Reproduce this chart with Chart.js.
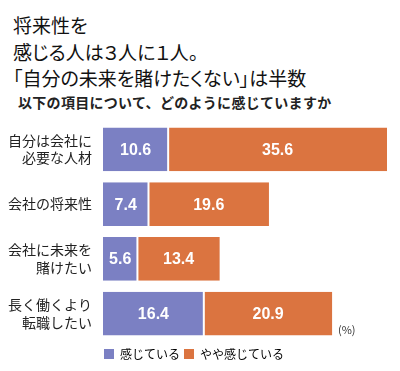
<!DOCTYPE html>
<html lang="ja">
<head>
<meta charset="utf-8">
<script src="https://cdn.jsdelivr.net/npm/chart.js@4"></script>
<style>
  html, body { margin: 0; padding: 0; background: #fff; }
  #wrap { position: relative; width: 400px; height: 371px; overflow: hidden; }
  #chart { position: absolute; left: 0; top: 0; }
  .ttl { position: absolute; left: 13px; font-family: "Noto Sans CJK JP", sans-serif; font-size: 19px; font-weight: 400; color: #111; line-height: 1; white-space: nowrap; font-feature-settings: "palt"; }
  .sub { position: absolute; left: 18px; top: 92px; font-family: "Noto Sans CJK JP", sans-serif; font-size: 14px; font-weight: bold; color: #222; letter-spacing: 0.3px; white-space: nowrap; }
</style>
</head>
<body>
<div id="wrap">
  <div class="ttl" style="top:15px">将来性を</div>
  <div class="ttl" style="top:42px">感じる人は３人に１人。</div>
  <div class="ttl" style="top:68px">「自分の未来を賭けたくない」は半数</div>
  <div class="sub">以下の項目について、どのように感じていますか</div>
  <canvas id="chart" width="400" height="371"></canvas>
</div>
<script>
// 項目
const categories = [
    ['自分は会社に', '必要な人材'],
    ['会社の将来性'],
    ['会社に未来を', '賭けたい'],
    ['長く働くより', '転職したい']
];
// 系列
const seriesNames = ['感じている', 'やや感じている'];
const feelValues = [10.6, 7.4, 5.6, 16.4];
const somewhatValues = [35.6, 19.6, 13.4, 20.9];

const BLUE = '#7b80c3';
const ORANGE = '#db7440';

// バーの中央に値を描く
const valueLabels = {
    id: 'valueLabels',
    afterDatasetsDraw(chart) {
        const ctx = chart.ctx;
        ctx.save();
        ctx.fillStyle = '#fff';
        ctx.font = 'bold 16px "Liberation Sans Narrow", "Liberation Sans", sans-serif';
        ctx.textAlign = 'center';
        ctx.textBaseline = 'middle';
        chart.data.datasets.forEach((ds, i) => {
            chart.getDatasetMeta(i).data.forEach((bar, j) => {
                const cx = (bar.x + bar.base) / 2;
                ctx.fillText(ds.data[j].toFixed(1), cx, bar.y + 1);
            });
        });
        ctx.restore();
    }
};

// 単位 (%)
const unitLabel = {
    id: 'unitLabel',
    afterDraw(chart) {
        const ctx = chart.ctx;
        const area = chart.chartArea;
        ctx.save();
        ctx.fillStyle = '#333';
        ctx.font = '11px "Noto Sans CJK JP", sans-serif';
        ctx.textAlign = 'left';
        ctx.textBaseline = 'middle';
        ctx.fillText('(%)', area.right - 49, area.bottom - 11);
        ctx.restore();
    }
};

// 凡例をバーの左端にそろえる
const legendShift = {
    id: 'legendShift',
    afterLayout(chart) {
        const lg = chart.legend;
        if (!lg) return;
        lg.left = chart.chartArea.left - 3;
        lg.top += 3;
        lg.bottom += 3;
    }
};

new Chart(document.getElementById('chart'), {
    type: 'bar',
    data: {
        labels: categories,
        datasets: [
            {
                label: seriesNames[0],
                data: feelValues,
                backgroundColor: BLUE,
                borderColor: '#fff',
                borderWidth: { right: 1 },
                borderSkipped: false
            },
            {
                label: seriesNames[1],
                data: somewhatValues,
                backgroundColor: ORANGE,
                borderColor: '#fff',
                borderWidth: { left: 1 },
                borderSkipped: false
            }
        ]
    },
    options: {
        indexAxis: 'y',
        responsive: false,
        animation: false,
        layout: { padding: { top: 122, right: 13, left: 0, bottom: 4 } },
        datasets: {
            bar: { categoryPercentage: 1, barPercentage: 0.8 }
        },
        plugins: {
            legend: {
                position: 'bottom',
                align: 'start',
                labels: {
                    boxWidth: 10,
                    boxHeight: 10,
                    padding: 4,
                    color: '#333',
                    font: { family: '"Noto Sans CJK JP", sans-serif', size: 12 },
                    generateLabels(chart) {
                        return chart.data.datasets.map((ds, i) => ({
                            text: ds.label,
                            fillStyle: ds.backgroundColor,
                            strokeStyle: ds.backgroundColor,
                            lineWidth: 0,
                            datasetIndex: i
                        }));
                    }
                }
            },
            tooltip: { enabled: false }
        },
        scales: {
            x: {
                stacked: true,
                min: 0,
                max: 46.2,
                display: false
            },
            y: {
                stacked: true,
                grid: { display: false },
                border: { display: false },
                afterFit(scale) { scale.width = 103; },
                ticks: {
                    padding: 3,
                    color: '#222',
                    font: { family: '"Noto Sans CJK JP", sans-serif', size: 14, lineHeight: 1.25 }
                }
            }
        }
    },
    plugins: [valueLabels, unitLabel, legendShift]
});
</script>
</body>
</html>
